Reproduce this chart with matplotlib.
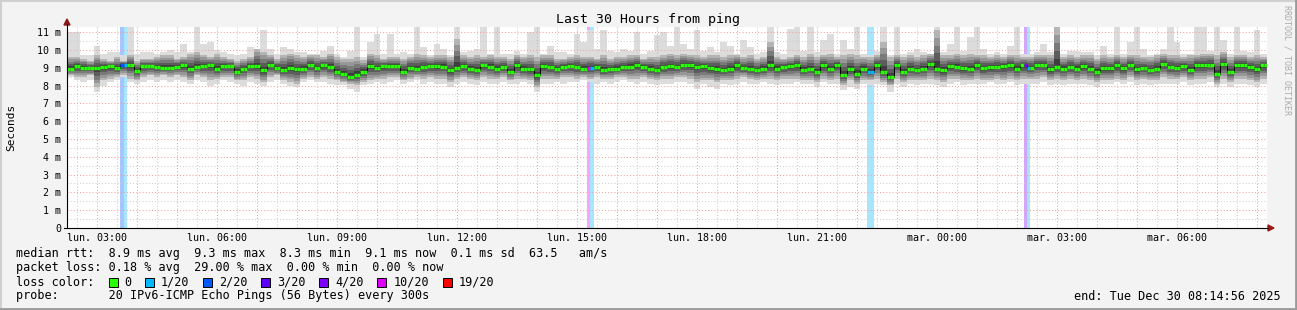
import numpy as np
import matplotlib
matplotlib.use("Agg")
import matplotlib.pyplot as plt
from matplotlib.patches import Rectangle, Polygon
from matplotlib.lines import Line2D
from matplotlib.colors import to_rgb

# Smokeping graph: 30 hours of ping, 10 minute columns (values in ms)
W, H = 1297, 310
STEP = 10          # minutes per smoke column
SPAN = 1800        # minutes shown

median = [
    8.94, 9.09, 9.00, 8.98, 8.98, 9.04, 9.09, 8.96, 9.15, 9.15, 8.80, 9.09,
    9.09, 9.04, 9.00, 9.00, 9.07, 9.13, 8.94, 9.04, 9.09, 9.13, 8.94, 9.09,
    9.09, 8.79, 8.94, 9.09, 9.09, 8.85, 9.17, 8.98, 8.85, 8.98, 8.91, 8.94,
    9.17, 8.98, 9.13, 9.04, 8.76, 8.66, 8.48, 8.61, 8.79, 9.09, 8.98, 9.09,
    9.09, 9.09, 8.79, 9.00, 8.94, 9.04, 9.09, 9.09, 9.07, 8.85, 8.98, 9.09,
    8.94, 8.85, 9.13, 9.07, 8.94, 9.04, 8.79, 9.13, 8.94, 8.91, 8.57, 9.09,
    9.04, 8.94, 9.04, 9.09, 9.04, 8.94, 9.00, 9.04, 8.85, 8.94, 8.94, 9.04,
    9.07, 9.17, 9.04, 8.94, 8.85, 9.04, 9.09, 9.04, 9.17, 9.17, 9.04, 9.09,
    8.98, 8.94, 8.85, 8.94, 9.13, 8.98, 8.94, 8.85, 8.94, 9.13, 8.94, 9.04,
    9.09, 9.13, 8.89, 8.94, 8.79, 9.13, 8.94, 9.17, 8.61, 8.91, 8.66, 8.94,
    8.79, 9.17, 8.79, 8.48, 9.17, 8.76, 8.94, 8.85, 8.94, 9.22, 8.94, 8.85,
    9.09, 9.04, 8.98, 8.94, 9.17, 8.98, 9.04, 9.04, 9.09, 9.13, 8.94, 9.13,
    9.00, 9.17, 9.17, 8.91, 9.04, 8.94, 9.04, 8.94, 9.09, 8.94, 8.76, 8.98,
    8.98, 9.13, 8.98, 9.17, 8.91, 8.98, 8.85, 8.94, 9.22, 9.04, 8.98, 9.09,
    8.85, 9.13, 9.13, 9.17, 8.66, 9.22, 8.79, 9.13, 9.13, 9.04, 8.91, 9.13,
]

# slowest / fastest ping of each column (light smoke)
ping_max = [
    11.0, 11.0, 9.7, 9.7, 10.25, 9.8, 9.9, 9.9, 9.7, 11.3, 9.8, 9.9,
    9.9, 9.8, 9.9, 10.0, 9.9, 10.35, 9.9, 11.3, 10.35, 10.44, 10.0, 9.9,
    9.8, 9.7, 9.8, 10.15, 10.07, 11.1, 10.07, 9.8, 10.15, 10.07, 9.9, 9.9,
    9.79, 9.79, 9.97, 10.25, 9.79, 9.6, 9.97, 11.3, 9.6, 10.44, 10.91, 9.79,
    10.91, 9.79, 9.88, 9.79, 11.32, 10.16, 9.69, 10.35, 10.07, 9.69, 11.3, 9.88,
    9.97, 10.07, 11.3, 9.79, 11.3, 9.79, 9.79, 9.97, 9.79, 11.0, 11.3, 9.79,
    10.25, 9.88, 9.88, 9.79, 10.91, 10.44, 11.1, 10.07, 11.1, 9.97, 9.88, 10.07,
    9.97, 11.0, 9.79, 9.97, 10.82, 11.0, 10.25, 11.3, 10.35, 10.07, 11.1, 9.97,
    10.16, 9.88, 10.44, 10.25, 9.79, 10.54, 10.16, 9.79, 9.88, 11.3, 9.88, 9.79,
    11.19, 11.3, 9.97, 11.3, 9.88, 10.54, 10.91, 9.79, 10.54, 10.07, 11.3, 9.79,
    9.69, 9.97, 11.3, 9.69, 11.3, 9.79, 9.88, 10.07, 9.88, 9.79, 11.3, 9.88,
    10.35, 11.3, 9.97, 10.72, 11.3, 10.07, 9.79, 9.88, 9.79, 10.25, 11.3, 9.79,
    9.79, 9.88, 10.35, 9.88, 11.3, 9.79, 9.97, 9.97, 9.88, 9.88, 9.69, 10.25,
    9.79, 11.3, 9.79, 10.44, 11.3, 10.07, 9.69, 9.79, 10.07, 11.3, 10.44, 9.79,
    9.79, 11.3, 11.3, 9.97, 11.3, 10.54, 9.79, 11.3, 9.97, 9.88, 11.1, 9.79,
]
ping_min = [
    8.48, 8.29, 8.19, 8.29, 7.63, 8.00, 8.19, 8.29, 8.48, 8.19, 8.10, 8.19,
    8.29, 8.19, 8.29, 8.19, 8.29, 8.19, 8.10, 8.29, 8.19, 8.00, 8.10, 8.29,
    8.19, 8.10, 8.00, 8.19, 8.10, 8.00, 8.19, 8.29, 8.10, 8.00, 7.91, 8.19,
    8.29, 8.19, 8.19, 8.10, 8.01, 8.01, 7.82, 7.63, 8.01, 8.10, 8.19, 8.10,
    8.19, 8.29, 8.10, 8.19, 8.29, 8.10, 8.19, 8.10, 8.10, 7.91, 8.10, 8.19,
    8.10, 8.01, 8.19, 8.10, 8.10, 8.19, 8.10, 8.10, 8.19, 8.10, 7.63, 8.10,
    8.10, 8.19, 8.10, 8.19, 8.19, 8.29, 8.19, 8.10, 8.19, 8.10, 8.19, 8.29,
    8.19, 8.10, 8.19, 8.10, 8.01, 8.10, 8.10, 8.19, 8.19, 8.10, 7.82, 8.10,
    7.91, 7.82, 8.10, 8.01, 8.10, 8.19, 8.10, 8.10, 8.19, 8.10, 8.01, 8.10,
    8.10, 8.19, 8.10, 8.10, 7.91, 8.19, 8.10, 8.10, 7.73, 7.91, 7.82, 8.10,
    8.01, 8.10, 8.01, 7.63, 8.10, 7.91, 8.10, 8.01, 8.10, 8.10, 8.01, 7.91,
    8.10, 8.19, 8.01, 8.10, 8.10, 8.10, 8.19, 8.10, 8.10, 8.19, 8.01, 8.10,
    8.10, 8.10, 8.19, 8.01, 8.10, 8.01, 8.10, 8.10, 8.10, 8.01, 7.91, 8.10,
    8.10, 8.19, 8.10, 8.19, 8.01, 8.10, 8.01, 8.10, 8.10, 8.10, 8.10, 8.19,
    8.01, 8.10, 8.10, 8.19, 7.91, 8.10, 7.91, 8.10, 8.10, 8.01, 7.91, 8.10,
]

# edges of the dense part of the smoke
dense_hi = [
    9.60, 9.60, 9.50, 9.40, 9.70, 9.50, 9.40, 9.60, 9.40, 9.70, 9.40, 9.50,
    9.50, 9.60, 9.70, 9.70, 9.50, 9.60, 9.80, 9.90, 9.70, 9.60, 9.80, 9.60,
    9.50, 9.40, 9.50, 9.60, 10.07, 9.90, 9.70, 9.50, 9.70, 9.80, 9.70, 9.60,
    9.69, 9.69, 9.60, 9.79, 9.60, 9.51, 9.51, 9.60, 9.41, 9.79, 9.69, 9.51,
    9.60, 9.60, 9.51, 9.60, 9.79, 9.69, 9.60, 9.69, 9.69, 9.60, 10.63, 9.69,
    9.60, 9.69, 9.60, 9.69, 9.60, 9.60, 9.51, 9.69, 9.60, 9.69, 9.60, 9.69,
    9.69, 9.51, 9.51, 9.60, 9.69, 9.60, 9.60, 9.51, 9.69, 9.51, 9.60, 9.60,
    9.69, 9.69, 9.51, 9.60, 9.60, 9.69, 9.79, 9.69, 9.79, 9.69, 9.69, 9.60,
    9.69, 9.69, 9.60, 9.69, 9.69, 9.60, 9.69, 9.51, 9.60, 10.44, 9.60, 9.51,
    9.60, 9.69, 9.60, 9.79, 9.60, 9.69, 9.79, 9.60, 9.69, 9.79, 9.69, 9.60,
    9.60, 9.69, 10.44, 9.60, 9.69, 9.60, 9.69, 9.60, 9.69, 9.79, 11.10, 9.69,
    9.69, 9.79, 9.69, 9.79, 9.69, 9.69, 9.60, 9.69, 9.60, 9.69, 9.69, 9.60,
    9.60, 9.69, 9.69, 9.69, 11.30, 9.60, 9.69, 9.60, 9.69, 9.69, 9.51, 9.69,
    9.60, 9.69, 9.60, 9.69, 9.69, 9.60, 9.60, 9.69, 9.79, 9.69, 9.69, 9.60,
    9.69, 9.69, 9.79, 9.79, 9.69, 9.88, 9.60, 9.69, 9.69, 9.60, 9.69, 9.60,
]
dense_lo = [
    8.57, 8.48, 8.48, 8.57, 7.91, 8.29, 8.38, 8.48, 8.57, 8.38, 8.29, 8.48,
    8.57, 8.48, 8.57, 8.48, 8.57, 8.48, 8.29, 8.57, 8.48, 8.29, 8.38, 8.48,
    8.48, 8.29, 8.29, 8.48, 8.38, 8.19, 8.48, 8.57, 8.29, 8.19, 8.10, 8.38,
    8.48, 8.38, 8.48, 8.38, 8.29, 8.19, 8.10, 8.01, 8.19, 8.29, 8.38, 8.38,
    8.48, 8.48, 8.29, 8.38, 8.48, 8.38, 8.48, 8.38, 8.38, 8.19, 8.38, 8.48,
    8.38, 8.29, 8.48, 8.38, 8.38, 8.48, 8.29, 8.38, 8.38, 8.29, 7.91, 8.38,
    8.38, 8.38, 8.48, 8.48, 8.38, 8.48, 8.38, 8.48, 8.38, 8.38, 8.48, 8.48,
    8.38, 8.38, 8.48, 8.38, 8.29, 8.38, 8.38, 8.48, 8.48, 8.38, 8.19, 8.29,
    8.29, 8.19, 8.29, 8.29, 8.38, 8.48, 8.38, 8.29, 8.38, 8.38, 8.29, 8.38,
    8.38, 8.38, 8.29, 8.29, 8.19, 8.38, 8.29, 8.38, 8.01, 8.29, 8.10, 8.29,
    8.29, 8.38, 8.19, 8.01, 8.38, 8.19, 8.29, 8.29, 8.29, 8.38, 8.29, 8.19,
    8.38, 8.38, 8.29, 8.29, 8.38, 8.29, 8.29, 8.38, 8.29, 8.38, 8.29, 8.38,
    8.38, 8.38, 8.48, 8.29, 8.38, 8.29, 8.38, 8.29, 8.38, 8.29, 8.19, 8.29,
    8.29, 8.38, 8.29, 8.48, 8.29, 8.38, 8.29, 8.29, 8.48, 8.38, 8.38, 8.48,
    8.29, 8.38, 8.38, 8.48, 8.10, 8.38, 8.19, 8.38, 8.38, 8.29, 8.19, 8.38,
]

# packet loss events: 5 minute step index and lost pings out of 20
loss_step = [16, 17, 156, 157, 240, 241, 287, 288]
loss_count = [2, 1, 5.8, 1, 1, 1, 4, 1]

loss_levels = [0, 1, 2, 3, 4, 10, 19]
loss_names = ["0", "1/20", "2/20", "3/20", "4/20", "10/20", "19/20"]
loss_colors = ["#26ff00", "#00b8ff", "#0059ff", "#5e00ff", "#7e00ff", "#dd00ff", "#ff0000"]

x_labels = ["lun. 03:00", "lun. 06:00", "lun. 09:00", "lun. 12:00", "lun. 15:00",
            "lun. 18:00", "lun. 21:00", "mar. 00:00", "mar. 03:00", "mar. 06:00"]
y_labels = ["0"] + ["%d m" % v for v in range(1, 12)]

stats_rtt = "median rtt:  8.9 ms avg  9.3 ms max  8.3 ms min  9.1 ms now  0.1 ms sd  63.5   am/s"
stats_loss = "packet loss: 0.18 % avg  29.00 % max  0.00 % min  0.00 % now"
probe_txt = "probe:       20 IPv6-ICMP Echo Pings (56 Bytes) every 300s"
end_txt = "end: Tue Dec 30 08:14:56 2025"

MONO = "DejaVu Sans Mono"


def fx(px):
    return px / W


def fy(py):
    return 1 - py / H


def loss_color(n):
    # smokeping buckets: (prev, level] gets the colour of level
    if n <= 0:
        return loss_colors[0]
    for lv, c in zip(loss_levels[1:], loss_colors[1:]):
        if n <= lv:
            return c
    return loss_colors[-1]


def pale(c, a=0.35):
    r = np.array(to_rgb(c))
    return tuple(1 - a * (1 - r))


fig = plt.figure(figsize=(W / 100, H / 100), dpi=100)
fig.patch.set_facecolor("#f3f3f3")

ax = fig.add_axes([fx(67), fy(228), 1200 / W, 201 / H])
ax.set_facecolor("white")
ax.set_xlim(0, SPAN)
ax.set_ylim(0, 11.29)
for s in ax.spines.values():
    s.set_visible(False)

med = np.array(median)
n = len(med)
edges = np.arange(n + 1) * STEP


def ext(a):
    a = np.asarray(a, dtype=float)
    return np.append(a, a[-1])


# loss bands behind everything
for st, cnt in zip(loss_step, loss_count):
    ax.axvspan(st * 5, st * 5 + 5, color=pale(loss_color(cnt)), lw=0, zorder=1)

# light smoke
ax.fill_between(edges, ext(ping_min), ext(ping_max), step="post",
                color="#dcdcdc", lw=0, zorder=2)

# grid
dots = (0, (1, 2))
for v in np.arange(0.5, 11.3, 0.5):
    major = abs(v - round(v)) < 1e-6
    ax.axhline(v, color="#f4a0a0" if major else "#cfcfcf", lw=0.75,
               ls=dots, zorder=3)
for m in range(15, SPAN, 30):
    major = (m - 45) % 60 == 0
    ax.axvline(m, color="#f4a0a0" if major else "#cfcfcf", lw=0.75,
               ls=dots, zorder=3)

# dense smoke, darker towards the median
greys = ["#b4b4b4", "#979797", "#7a7a7a", "#5c5c5c", "#3e3e3e"]
lo_d = np.array(dense_lo)
hi_d = np.array(dense_hi)
for k, g in enumerate(greys):
    f = k / len(greys)
    ax.fill_between(edges, ext(lo_d + (med - lo_d) * f), ext(hi_d - (hi_d - med) * f),
                    step="post", color=g, lw=0, zorder=4)

# median, coloured by loss in each 5 minute step
ax.step(edges, ext(med), where="post", color="black", lw=0.7, zorder=5)
x5 = np.arange(n * 2) * 5
m5 = np.repeat(med, 2)
loss5 = np.zeros(n * 2)
for st, cnt in zip(loss_step, loss_count):
    loss5[st] = cnt
ax.hlines(m5, x5, x5 + 5, colors=[loss_color(v) for v in loss5], lw=2.4,
          zorder=6)

# ticks
ax.set_xticks([45 + 180 * i for i in range(len(x_labels))])
ax.set_xticklabels(x_labels, fontfamily=MONO, fontsize=7.2)
ax.set_yticks(range(len(y_labels)))
ax.set_yticklabels(y_labels, fontfamily=MONO, fontsize=7.2)
ax.tick_params(axis="x", length=0, pad=3.5)
ax.tick_params(axis="y", length=0, pad=4.3)

# axis lines and arrows
fig.add_artist(Line2D([fx(67), fx(67)], [fy(228), fy(24)], color="black", lw=0.8))
fig.add_artist(Line2D([fx(64), fx(1268)], [fy(228), fy(228)], color="black", lw=0.8))
fig.add_artist(Polygon([(fx(64), fy(25)), (fx(70), fy(25)), (fx(67), fy(19))],
                       closed=True, color="#8b1a1a", transform=fig.transFigure))
fig.add_artist(Polygon([(fx(1268), fy(225)), (fx(1268), fy(231)), (fx(1274), fy(228))],
                       closed=True, color="#a01818", transform=fig.transFigure))

# frame
fig.add_artist(Line2D([0, 1], [fy(0.5), fy(0.5)], color="#d0d0d0", lw=1.5))
fig.add_artist(Line2D([fx(0.5), fx(0.5)], [0, 1], color="#d0d0d0", lw=1.5))
fig.add_artist(Line2D([0, 1], [fy(309), fy(309)], color="#9a9a9a", lw=2))
fig.add_artist(Line2D([fx(1296), fx(1296)], [0, 1], color="#9a9a9a", lw=2))

# titles
fig.text(fx(648), fy(19), "Last 30 Hours from ping", ha="center", va="center",
         fontfamily=MONO, fontsize=9.5)
fig.text(fx(11), fy(127), "Seconds", rotation=90, ha="center", va="center",
         fontfamily=MONO, fontsize=8)
fig.text(fx(1287), fy(60), "RRDTOOL / TOBI OETIKER", rotation=270, ha="center",
         va="center", fontfamily=MONO, fontsize=6, color="#ababab")

# legend block
fs = 8.5
cw = 7.14
fig.text(fx(16), fy(254), stats_rtt, va="center", fontfamily=MONO, fontsize=fs)
fig.text(fx(16), fy(268), stats_loss, va="center", fontfamily=MONO, fontsize=fs)
fig.text(fx(16), fy(282), "loss color:", va="center", fontfamily=MONO, fontsize=fs)
fig.text(fx(16), fy(296), probe_txt, va="center", fontfamily=MONO, fontsize=fs)
fig.text(fx(1281), fy(296), end_txt, ha="right", va="center", fontfamily=MONO,
         fontsize=fs)

sx = 108.5
for name, c in zip(loss_names, loss_colors):
    fig.add_artist(Rectangle((fx(sx), fy(286.5)), 9 / W, 9 / H, facecolor=c,
                             edgecolor="black", lw=0.7, transform=fig.transFigure))
    fig.text(fx(sx + 16), fy(282), name, va="center", fontfamily=MONO, fontsize=fs)
    sx = sx + 16 + len(name) * cw + 13.5

fig.savefig("out.png", dpi=100, facecolor=fig.get_facecolor())
